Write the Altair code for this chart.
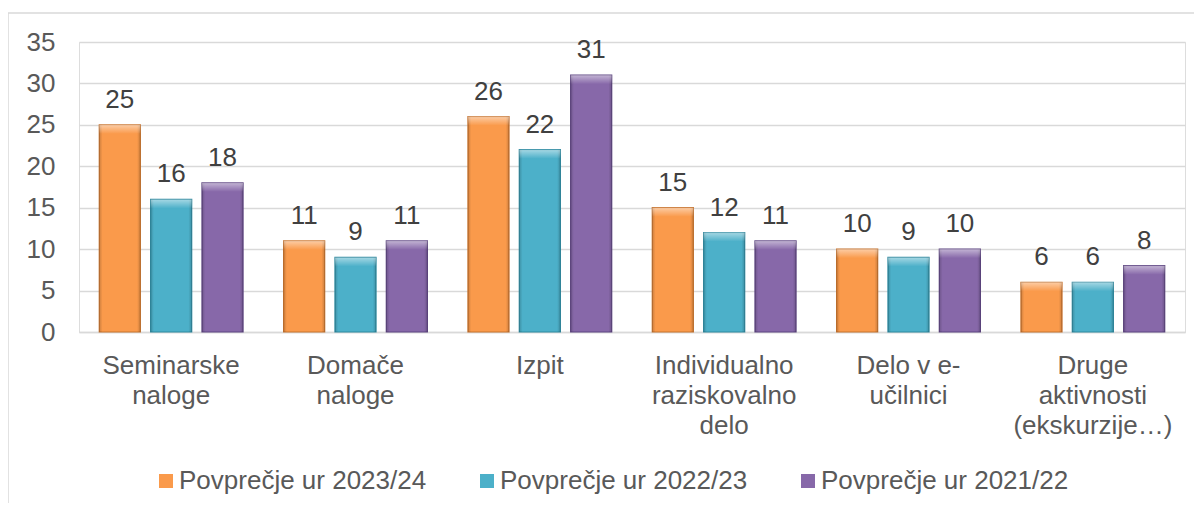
import json
import altair as alt
import pandas as pd

categories = [
    "Seminarske naloge",
    "Domače naloge",
    "Izpit",
    "Individualno raziskovalno delo",
    "Delo v e-učilnici",
    "Druge aktivnosti (ekskurzije…)",
]
category_lines = [
    ["Seminarske", "naloge"],
    ["Domače", "naloge"],
    ["Izpit"],
    ["Individualno", "raziskovalno", "delo"],
    ["Delo v e-", "učilnici"],
    ["Druge", "aktivnosti", "(ekskurzije…)"],
]
series = ["Povprečje ur 2023/24", "Povprečje ur 2022/23", "Povprečje ur 2021/22"]
values_2023_24 = [25, 11, 26, 15, 10, 6]
values_2022_23 = [16, 9, 22, 12, 9, 6]
values_2021_22 = [18, 11, 31, 11, 10, 8]
y_ticks = [0, 5, 10, 15, 20, 25, 30, 35]

colors = ["#FA9A4B", "#4CB0C9", "#8768A9"]
dark_colors = ["#C8742F", "#2F8BA2", "#5F4683"]

rows = []
for s, vals in zip(series, [values_2023_24, values_2022_23, values_2021_22]):
    for c, v in zip(categories, vals):
        rows.append({"category": c, "series": s, "value": v})
df = pd.DataFrame(rows)

FONT = "Liberation Sans, Arial, sans-serif"
label_map = json.dumps(dict(zip(categories, category_lines)), ensure_ascii=False)

x_enc = alt.X(
    "category:N",
    sort=categories,
    scale=alt.Scale(paddingInner=0.22, paddingOuter=0.11),
    axis=alt.Axis(
        title=None,
        labelAngle=0,
        labelFontSize=26,
        labelFont=FONT,
        labelColor="#595959",
        labelPadding=20,
        labelLineHeight=30,
        labelLimit=0,
        ticks=False,
        domainColor="#d9d9d9",
        domainWidth=1.5,
        labelExpr=label_map + "[datum.label]",
    ),
)
xoff_enc = alt.XOffset(
    "series:N", sort=series, scale=alt.Scale(paddingInner=0.2, paddingOuter=0)
)
y_enc = alt.Y(
    "value:Q",
    scale=alt.Scale(domain=[0, 35], nice=False),
    axis=alt.Axis(
        title=None,
        values=y_ticks,
        labelFontSize=26,
        labelFont=FONT,
        labelColor="#595959",
        labelPadding=24,
        ticks=False,
        domain=False,
        gridColor="#d9d9d9",
        gridWidth=1.5,
    ),
)

base = alt.Chart(df)

bars = base.mark_bar(strokeWidth=1.2).encode(
    x=x_enc,
    xOffset=xoff_enc,
    y=y_enc,
    color=alt.Color(
        "series:N",
        sort=series,
        scale=alt.Scale(domain=series, range=colors),
        legend=alt.Legend(
            title=None,
            orient="none",
            direction="horizontal",
            legendX=74,
            legendY=426,
            symbolType="square",
            symbolSize=196,
            symbolStrokeWidth=0,
            symbolOpacity=1,
            labelFontSize=26,
            labelFont=FONT,
            labelColor="#595959",
            labelOffset=0,
            columnPadding=47,
            labelLimit=0,
        ),
    ),
    stroke=alt.Stroke(
        "series:N", scale=alt.Scale(domain=series, range=dark_colors), legend=None
    ),
)

sides = base.mark_bar(
    color={
        "gradient": "linear",
        "x1": 0, "y1": 0, "x2": 1, "y2": 0,
        "stops": [
            {"offset": 0, "color": "rgba(0,0,0,0.18)"},
            {"offset": 0.08, "color": "rgba(0,0,0,0.0)"},
            {"offset": 0.92, "color": "rgba(0,0,0,0.0)"},
            {"offset": 1, "color": "rgba(0,0,0,0.18)"},
        ],
    },
).encode(x=x_enc, xOffset=xoff_enc, y=y_enc)

highlight = base.mark_bar(
    y2Offset=9,
    color={
        "gradient": "linear",
        "x1": 0, "y1": 0, "x2": 0, "y2": 1,
        "stops": [
            {"offset": 0, "color": "rgba(255,255,255,0.5)"},
            {"offset": 1, "color": "rgba(255,255,255,0.0)"},
        ],
    },
).encode(x=x_enc, xOffset=xoff_enc, y=y_enc, y2="value:Q")

labels = base.mark_text(
    dy=-17, baseline="alphabetic", fontSize=26, font=FONT, color="#404040"
).encode(x=x_enc, xOffset=xoff_enc, y=y_enc, text="value:Q")

frame = alt.Chart(pd.DataFrame({"f": [0]})).mark_rect(
    fill="transparent", stroke="#d9d9d9", strokeWidth=1.5
).encode(
    x=alt.value(-71), x2=alt.value(1300), y=alt.value(-29), y2=alt.value(700)
)

chart = (
    alt.layer(frame, bars, sides, highlight, labels)
    .properties(
        width=1106,
        height=290,
        autosize=alt.AutoSizeParams(type="none"),
        padding={"left": 71, "top": 34, "right": 9, "bottom": 171},
    )
    .configure_view(stroke=None)
    .configure(background="white")
)

chart.save("out.html", embed_options={"renderer": "svg", "actions": False})
